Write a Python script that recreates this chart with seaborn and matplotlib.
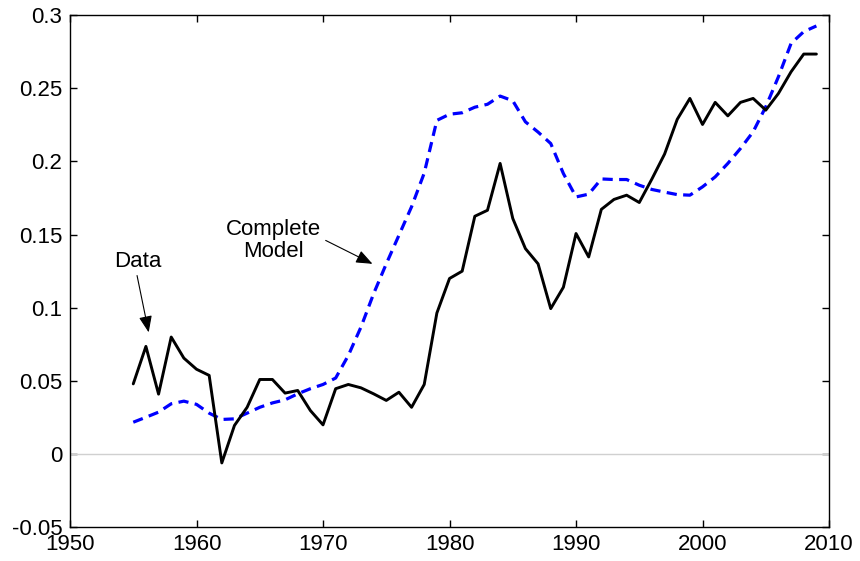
import numpy as np
import pandas as pd
import matplotlib
matplotlib.use("Agg")
import matplotlib.pyplot as plt
import seaborn as sns

years = list(range(1955, 2010))
data_series = [0.048, 0.0736, 0.041, 0.080, 0.0656, 0.058, 0.0538, -0.006, 0.0196, 0.032,
               0.051, 0.051, 0.0417, 0.0435, 0.0298, 0.020, 0.0447, 0.0476, 0.0453, 0.0412,
               0.0367, 0.0423, 0.032, 0.0476, 0.0964, 0.120, 0.125, 0.1625, 0.1666, 0.1986,
               0.161, 0.1404, 0.130, 0.0994, 0.114, 0.1507, 0.1347, 0.1672, 0.174, 0.1769,
               0.1719, 0.188, 0.205, 0.2287, 0.243, 0.2252, 0.2403, 0.2311, 0.2403, 0.243,
               0.235, 0.2464, 0.2612, 0.2733, 0.2733]
model_series = [0.0218, 0.0252, 0.0287, 0.0344, 0.0362, 0.034, 0.028, 0.0237, 0.0241, 0.028,
                0.032, 0.035, 0.0371, 0.0412, 0.0447, 0.0476, 0.052, 0.0674, 0.0868, 0.1096,
                0.130, 0.1495, 0.169, 0.192, 0.228, 0.2322, 0.2332, 0.237, 0.239, 0.2446,
                0.2414, 0.227, 0.220, 0.2122, 0.1917, 0.1757, 0.1776, 0.188, 0.1876, 0.1876,
                0.1837, 0.1808, 0.179, 0.1773, 0.1769, 0.1826, 0.1894, 0.1986, 0.2088, 0.2202,
                0.2373, 0.2578, 0.2806, 0.2886, 0.2925]
x_ticks = [1950, 1960, 1970, 1980, 1990, 2000, 2010]
y_ticks = [-0.05, 0, 0.05, 0.1, 0.15, 0.2, 0.25, 0.3]
y_tick_labels = ["-0.05", "0", "0.05", "0.1", "0.15", "0.2", "0.25", "0.3"]

sns.set_style("white")
plt.rcParams['font.family'] = ['Liberation Sans', 'DejaVu Sans']
plt.rcParams['text.color'] = 'black'

df = pd.DataFrame({"year": years, "Data": data_series, "Model": model_series})

fig = plt.figure(figsize=(8.6, 5.61), dpi=100)
ax = fig.add_axes([0.0814, 0.060, 0.8826, 0.9133])

ax.axhline(0, color="#d0d0d0", lw=1.0, zorder=1)
sns.lineplot(data=df, x="year", y="Data", ax=ax, color="black", lw=2.1, zorder=3)
sns.lineplot(data=df, x="year", y="Model", ax=ax, color="#0000ff", lw=2.3,
             linestyle=(0, (3.2, 2.0)), zorder=2)

ax.set_xlim(1950, 2010)
ax.set_ylim(-0.05, 0.3)
ax.set_xticks(x_ticks)
ax.set_xticklabels([str(t) for t in x_ticks])
ax.set_yticks(y_ticks)
ax.set_yticklabels(y_tick_labels)
ax.set_xlabel("")
ax.set_ylabel("")
ax.tick_params(direction="in", length=5, width=1, labelsize=16, top=True, right=True,
               bottom=True, left=True, colors="black")
ax.tick_params(axis="y", pad=5.5)
ax.tick_params(axis="x", pad=5)
for s in ax.spines.values():
    s.set_visible(True)
    s.set_color("black")
    s.set_linewidth(1.0)

arrow_style = dict(arrowstyle="-|>,head_length=1.0,head_width=0.4", color="black",
                   lw=0.8, shrinkA=0, shrinkB=0)
ax.text(1955.35, 0.1313, "Data", ha="center", va="center", fontsize=16, color="black")
ax.annotate("", xy=(1956.22, 0.0832), xytext=(1955.30, 0.122), arrowprops=arrow_style)
ax.text(1966.1, 0.146, "Complete\nModel", ha="center", va="center", fontsize=16,
        linespacing=1.05, color="black")
ax.annotate("", xy=(1973.91, 0.130), xytext=(1970.21, 0.146), arrowprops=arrow_style)

fig.savefig("out.png", dpi=100)
